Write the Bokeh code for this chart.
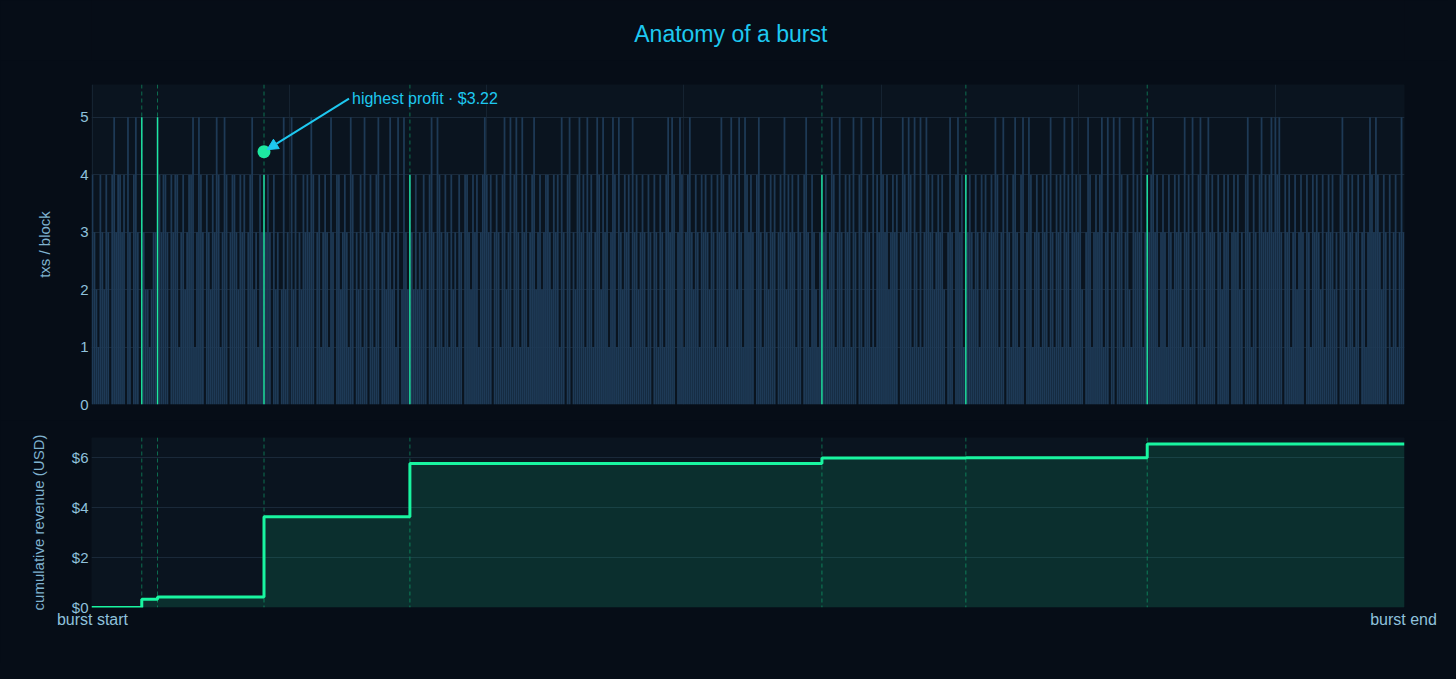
from bokeh.plotting import figure
from bokeh.layouts import column
from bokeh.models import (Range1d, FixedTicker, Span, Arrow, NormalHead, Label,
                          NumeralTickFormatter)
from bokeh.embed import file_html
from bokeh.resources import INLINE

# ---------------- data ----------------
TITLE = "Anatomy of a burst"
TXS_PER_BLOCK = [
    4,3,2,1,4,3,2,4,3,0,4,5,3,4,4,3,4,0,5,3,
    0,4,5,3,0,5,3,2,2,1,2,3,3,5,4,3,4,4,3,0,
    4,3,4,4,1,3,4,2,3,4,4,5,1,3,5,4,3,0,4,3,
    2,4,3,5,4,1,3,5,4,0,3,4,4,3,2,4,3,4,0,3,
    4,5,2,3,1,4,3,4,3,4,3,0,4,2,3,0,2,5,2,3,
    0,5,2,4,1,3,2,4,3,4,3,5,4,0,3,4,1,3,4,3,
    1,5,3,0,4,4,2,3,4,3,1,5,4,0,3,2,4,1,5,3,
    0,4,3,1,4,5,0,3,4,2,3,5,2,3,1,5,0,2,5,3,
    2,4,3,2,4,2,3,2,4,3,0,4,5,3,1,5,4,3,1,4,
    3,1,4,2,3,1,4,3,0,4,4,3,2,4,3,4,1,3,4,5,
    4,3,4,0,3,4,3,1,4,5,2,3,5,1,4,5,3,1,5,3,
    4,1,3,4,5,2,3,4,2,3,4,4,3,2,4,3,4,1,5,3,
    0,4,5,0,3,2,4,5,3,4,1,5,3,4,1,3,5,4,2,5,
    3,4,1,3,5,4,1,5,3,2,4,3,4,1,5,3,4,2,3,4,
    3,1,4,3,0,4,3,1,4,3,1,4,5,3,5,4,0,3,5,4,
    1,3,4,5,3,2,4,3,1,4,3,4,3,2,4,3,1,4,3,5,
    4,3,1,4,5,3,4,2,5,3,1,5,4,3,4,3,0,4,5,3,
    1,4,3,2,4,3,4,0,3,4,3,5,2,4,3,4,3,1,4,3,
    0,4,5,3,1,4,3,2,1,3,4,3,4,2,3,5,4,1,3,5,
    3,1,4,3,4,1,5,3,0,4,5,1,3,4,3,1,5,1,4,3,
    5,4,3,4,2,3,4,3,4,0,3,5,4,3,5,4,1,5,3,1,
    5,1,3,5,4,3,4,2,3,4,3,4,2,0,3,5,3,0,4,5,
    3,4,1,4,3,4,3,2,4,3,1,4,3,4,2,3,4,3,5,4,
    1,3,5,0,4,3,1,4,5,3,1,4,5,0,3,5,4,1,3,4,
    3,1,4,3,4,1,5,3,1,4,3,4,1,5,3,4,1,5,3,4,
    3,4,2,0,3,5,4,1,3,4,3,4,5,1,3,5,0,3,5,0,
    3,5,4,1,3,4,2,1,5,3,4,3,5,1,3,4,3,4,5,3,
    4,1,3,4,3,1,4,3,2,4,3,4,3,1,5,3,4,1,5,3,
    0,4,5,3,1,4,5,3,4,3,0,4,3,2,4,3,4,0,3,4,
    3,4,2,3,0,4,5,3,1,4,3,0,4,5,3,4,3,4,5,3,
    5,4,5,3,0,4,3,4,1,3,4,2,3,4,3,0,4,3,1,4,
    3,4,3,2,4,1,3,4,3,4,2,3,0,4,5,3,1,4,3,4,
    1,3,4,0,3,4,1,3,5,4,3,5,4,3,2,4,3,0,4,1,
    3,4,1,3,5,3,
]
EVENT_BLOCKS = [25, 33, 87, 161, 370, 443, 535]
EVENT_PROFIT = [0.33, 0.09, 3.22, 2.13, 0.22, 0.01, 0.55]
X_TICK_LABELS = ["burst start", "burst end"]
TXS_TICKS = [0, 1, 2, 3, 4, 5]
USD_TICKS = [0, 2, 4, 6]
GRID_STEP = 100

# ---------------- styles ----------------
FONT = "Liberation Sans"
PAGE_BG = "#060d17"
PLOT_BG = "#0a141f"
BAR_C = "#1e3a56"
GREEN = "#1de9a0"
LINE_GREEN = "#19f5a0"
DASH_C = "#0d6e50"
GRID_C = "#1a2939"
CYAN = "#1ec8f0"
TICK_C = "#8fc1dc"
LABEL_C = "#7fb2cf"

n = len(TXS_PER_BLOCK)
idx = list(range(n))
X_LO, X_HI = -0.5, n - 0.5
Y1_TOP = 5.57
Y2_TOP = 6.81

W = 1448
LEFT, RIGHT = 91, 44
H0 = 60                      # title strip
H1_TOP, H1_FRAME, H1_BOT = 24, 320, 16
H2_TOP, H2_FRAME, H2_BOT = 17, 170, 56
TITLE_X = 705
TITLE_Y = 33


def style_common(p):
    p.background_fill_color = PLOT_BG
    p.border_fill_color = PAGE_BG
    p.outline_line_color = None
    p.min_border_left = LEFT
    p.min_border_right = RIGHT
    for ax in p.yaxis:
        ax.axis_line_color = None
        ax.major_tick_line_color = None
        ax.minor_tick_line_color = None
        ax.major_tick_out = 0
        ax.minor_tick_out = 0
        ax.major_label_text_color = TICK_C
        ax.major_label_text_font = FONT
        ax.major_label_text_font_size = "15px"
        ax.major_label_standoff = 3
        ax.axis_label_text_color = LABEL_C
        ax.axis_label_text_font = FONT
        ax.axis_label_text_font_size = "15px"
        ax.axis_label_text_font_style = "normal"
    p.ygrid.grid_line_color = GRID_C
    p.ygrid.grid_line_width = 1


px_per_block = (W - LEFT - RIGHT) / (X_HI - X_LO)
px_per_unit = H1_FRAME / Y1_TOP

# ---------------- title strip ----------------
p0 = figure(width=W, height=H0, x_range=Range1d(0, W), y_range=Range1d(0, H0),
            output_backend="svg", toolbar_location=None, tools="",
            x_axis_location=None, y_axis_location=None,
            min_border_left=0, min_border_right=0,
            min_border_top=0, min_border_bottom=0)
p0.grid.visible = False
p0.outline_line_color = None
p0.background_fill_color = PAGE_BG
p0.border_fill_color = PAGE_BG
p0.add_layout(Label(x=TITLE_X, y=H0 - TITLE_Y, text=TITLE, text_color=CYAN,
                    text_font=FONT, text_font_size="23px",
                    text_align="center", text_baseline="middle"))

# ---------------- top panel ----------------
xr = Range1d(X_LO, X_HI)
p1 = figure(width=W, height=H1_TOP + H1_FRAME + H1_BOT, x_range=xr,
            y_range=Range1d(0, Y1_TOP), output_backend="svg",
            toolbar_location=None, tools="")
style_common(p1)
p1.min_border_top = H1_TOP
p1.min_border_bottom = H1_BOT
p1.xaxis.visible = False
p1.xgrid.ticker = FixedTicker(ticks=list(range(0, n, GRID_STEP)))
p1.xgrid.grid_line_color = GRID_C
p1.xgrid.grid_line_alpha = 0.7
p1.yaxis.ticker = FixedTicker(ticks=TXS_TICKS)
p1.yaxis.axis_label = "txs / block"
p1.yaxis.axis_label_standoff = 24

for b in EVENT_BLOCKS:
    p1.add_layout(Span(location=b, dimension="height", line_color=DASH_C,
                       line_dash="4 3", line_width=1, level="underlay"))

p1.vbar(x=idx, top=TXS_PER_BLOCK, width=0.9, fill_color=BAR_C, line_color=None)
ev_tx = [TXS_PER_BLOCK[b] for b in EVENT_BLOCKS]
p1.vbar(x=EVENT_BLOCKS, top=ev_tx, width=0.7, fill_color=GREEN, line_color=None)

peak_i = max(range(len(EVENT_PROFIT)), key=lambda i: EVENT_PROFIT[i])
peak_b = EVENT_BLOCKS[peak_i]
MARK_LIFT = 0.4
mark_y = TXS_PER_BLOCK[peak_b] + MARK_LIFT
p1.scatter(x=[peak_b], y=[mark_y], size=13, fill_color=GREEN, line_color=None)

AX, AY = 85, 53      # annotation offset in pixels
TIP_X, TIP_Y = 3, 2  # arrow tip offset in pixels
p1.add_layout(Arrow(
    x_start=peak_b + AX / px_per_block, y_start=mark_y + AY / px_per_unit,
    x_end=peak_b + TIP_X / px_per_block, y_end=mark_y + TIP_Y / px_per_unit,
    line_color=CYAN, line_width=2,
    end=NormalHead(size=11, fill_color=CYAN, line_color=CYAN)))
p1.add_layout(Label(x=peak_b, y=mark_y, x_offset=AX + 3, y_offset=AY,
                    text=f"highest profit \u00b7 ${EVENT_PROFIT[peak_i]:.2f}",
                    text_color=CYAN, text_font=FONT, text_font_size="16px",
                    text_align="left", text_baseline="middle"))

# ---------------- bottom panel ----------------
p2 = figure(width=W, height=H2_TOP + H2_FRAME + H2_BOT, x_range=xr,
            y_range=Range1d(0, Y2_TOP), output_backend="svg",
            toolbar_location=None, tools="")
style_common(p2)
p2.min_border_top = H2_TOP
p2.min_border_bottom = H2_BOT
p2.xgrid.grid_line_color = None
p2.yaxis.ticker = FixedTicker(ticks=USD_TICKS)
p2.yaxis.formatter = NumeralTickFormatter(format="$0")
p2.yaxis.axis_label = "cumulative revenue (USD)"
p2.yaxis.axis_label_standoff = 22

xa = p2.xaxis[0]
xa.ticker = FixedTicker(ticks=[0, n - 1])
xa.major_label_overrides = {0: X_TICK_LABELS[0], n - 1: X_TICK_LABELS[1]}
xa.axis_line_color = None
xa.major_tick_line_color = None
xa.minor_tick_line_color = None
xa.major_tick_out = 0
xa.minor_tick_out = 0
xa.major_label_text_color = TICK_C
xa.major_label_text_font = FONT
xa.major_label_text_font_size = "16px"
xa.major_label_standoff = 3

cum = []
total = 0.0
for v in EVENT_PROFIT:
    total += v
    cum.append(total)
step_x = [X_LO] + EVENT_BLOCKS + [X_HI]
step_y = [0.0] + cum + [cum[-1]]

for b in EVENT_BLOCKS:
    p2.add_layout(Span(location=b, dimension="height", line_color=DASH_C,
                       line_dash="4 3", line_width=1, level="underlay"))

p2.varea_step(x=step_x, y1=[0.0] * len(step_x), y2=step_y, step_mode="after",
              fill_color=LINE_GREEN, fill_alpha=0.12)
p2.step(x=step_x, y=step_y, mode="after", line_color=LINE_GREEN, line_width=3)

layout = column(p0, p1, p2, spacing=0)
layout.background = PAGE_BG

html = file_html(layout, INLINE)
html = html.replace("<head>", "<head><style>html,body{background:%s;}</style>" % PAGE_BG, 1)
open("out.html", "w").write(html)
